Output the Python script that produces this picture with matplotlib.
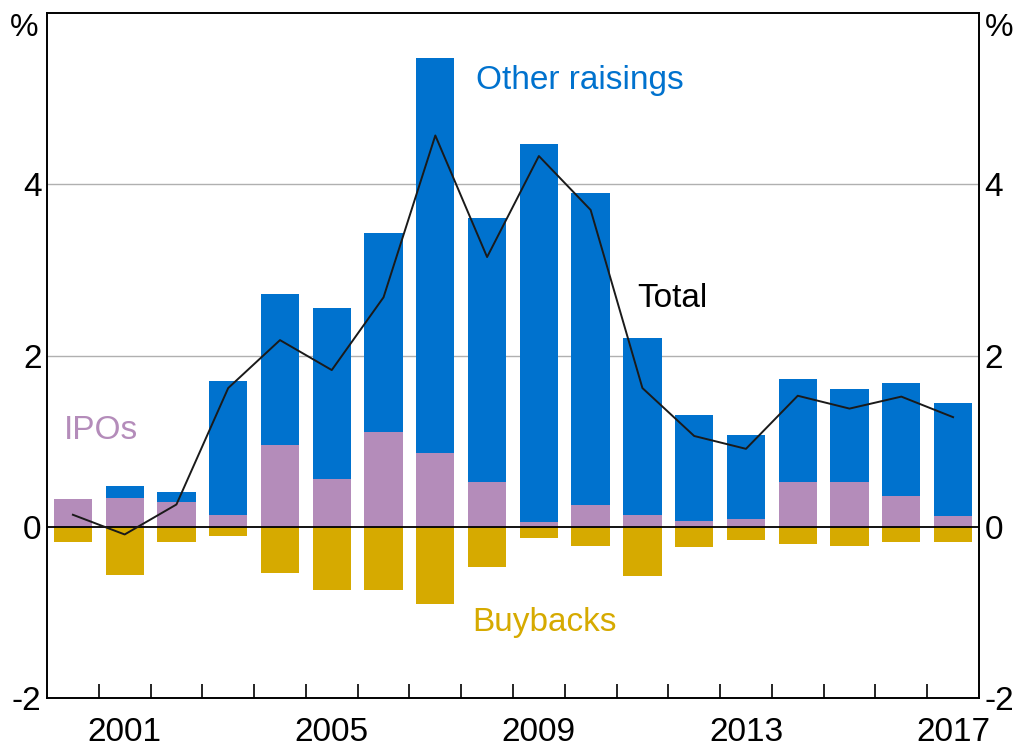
import matplotlib.pyplot as plt
import numpy as np

plt.rcParams['font.family'] = ['Liberation Sans', 'DejaVu Sans']

# data, % (annual)
years = np.arange(2000, 2018)
ipos = [0.32, 0.34, 0.29, 0.14, 0.95, 0.56, 1.11, 0.86, 0.52, 0.05,
        0.25, 0.14, 0.07, 0.09, 0.52, 0.52, 0.36, 0.12]
other = [0.00, 0.14, 0.12, 1.56, 1.77, 2.00, 2.32, 4.62, 3.09, 4.42,
         3.65, 2.06, 1.23, 0.98, 1.20, 1.09, 1.32, 1.33]
buybacks = [-0.18, -0.56, -0.18, -0.11, -0.54, -0.74, -0.74, -0.90, -0.47, -0.13,
            -0.22, -0.58, -0.24, -0.15, -0.20, -0.22, -0.18, -0.18]
total = [0.14, -0.09, 0.26, 1.62, 2.18, 1.83, 2.68, 4.57, 3.15, 4.33,
         3.70, 1.62, 1.06, 0.91, 1.53, 1.38, 1.52, 1.28]

c_blue = '#0072CE'
c_ipo = '#B48CBA'
c_buy = '#D6AA00'
fs = 24

fig = plt.figure(figsize=(10.15, 7.49), dpi=100)
ax = fig.add_axes([0.0463, 0.0681, 0.9182, 0.9145])

w = 0.74
ax.bar(years, ipos, w, color=c_ipo, zorder=2)
ax.bar(years, other, w, bottom=ipos, color=c_blue, zorder=2)
ax.bar(years, buybacks, w, color=c_buy, zorder=2)
ax.plot(years, total, color='#1a1a1a', lw=1.4, zorder=3)

ax.set_xlim(1999.5, 2017.5)
ax.set_ylim(-2, 6)
for y in [2, 4]:
    ax.axhline(y, color='#b0b0b0', lw=1, zorder=1)
ax.axhline(0, color='black', lw=1.3, zorder=2.5)

# x axis: labels on some years, small ticks between years
ax.set_xticks([2001, 2005, 2009, 2013, 2017])
ax.set_xticklabels(['2001', '2005', '2009', '2013', '2017'])
ax.set_xticks(np.arange(2000.5, 2017.5, 1), minor=True)
ax.tick_params(axis='x', which='major', length=0, pad=14, labelsize=fs)
ax.tick_params(axis='x', which='minor', direction='in', length=10, width=1.2)

ax.set_yticks([-2, 0, 2, 4])
ax.set_yticklabels(['-2', '0', '2', '4'])
ax.tick_params(axis='y', length=0, labelsize=fs, labelleft=True, labelright=True, pad=4)
ax.text(-0.009, 1.0, '%', transform=ax.transAxes, ha='right', va='top', fontsize=fs - 1)
ax.text(1.006, 1.0, '%', transform=ax.transAxes, ha='left', va='top', fontsize=fs - 1)

for s in ax.spines.values():
    s.set_linewidth(1.4)
    s.set_color('black')

ax.text(2009.79, 5.21, 'Other raisings', color=c_blue, fontsize=fs, ha='center', va='center')
ax.text(2010.9, 2.67, 'Total', color='black', fontsize=fs, ha='left', va='center')
ax.text(1999.83, 1.13, 'IPOs', color=c_ipo, fontsize=fs, ha='left', va='center')
ax.text(2009.1, -1.12, 'Buybacks', color=c_buy, fontsize=fs, ha='center', va='center')

fig.savefig('out.png', dpi=100)
